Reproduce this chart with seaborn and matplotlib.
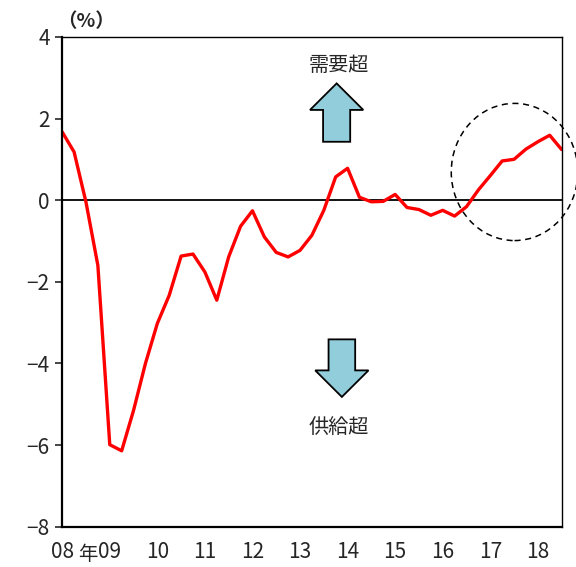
import numpy as np
import pandas as pd
import seaborn as sns
import matplotlib.pyplot as plt
from matplotlib.patches import Ellipse, FancyArrow

# 需給ギャップ（%）、2008年1Q～2018年3Q の四半期データ
gap_values = [1.67, 1.18, -0.05, -1.60, -5.99, -6.14, -5.15, -4.00, -3.02, -2.33,
              -1.37, -1.32, -1.76, -2.45, -1.39, -0.64, -0.26, -0.90, -1.28, -1.39,
              -1.23, -0.86, -0.25, 0.57, 0.78, 0.07, -0.04, -0.03, 0.14, -0.18,
              -0.23, -0.37, -0.25, -0.39, -0.16, 0.25, 0.60, 0.96, 1.00, 1.25,
              1.43, 1.59, 1.24]
start_year = 2008
year_ticks = list(range(2008, 2019))
year_labels = ['08', '09', '10', '11', '12', '13', '14', '15', '16', '17', '18']
y_ticks = [4, 2, 0, -2, -4, -6, -8]
y_labels = ['4', '2', '0', '−2', '−4', '−6', '−8']

df = pd.DataFrame({
    'year': start_year + 0.25 * np.arange(len(gap_values)),
    'gap': gap_values,
})

sns.set_style("white")
plt.rcParams['font.family'] = ['Noto Sans CJK JP', 'DejaVu Sans']

fig = plt.figure(figsize=(5.76, 5.67), dpi=100)
ax = fig.add_axes([0.108, 0.071, 0.867, 0.864])

sns.lineplot(data=df, x='year', y='gap', color='#ff0000', linewidth=2.4, ax=ax)
ax.axhline(0, color='black', linewidth=1.3, zorder=1)

ax.set_xlim(2008, 2018.5)
ax.set_ylim(-8, 4)
ax.set_xticks(year_ticks)
ax.set_xticklabels(year_labels, fontsize=15)
ax.set_yticks(y_ticks)
ax.set_yticklabels(y_labels, fontsize=15)
ax.tick_params(axis='x', direction='in', length=6, width=1.2, pad=10)
ax.tick_params(axis='y', direction='out', length=5, width=1.2, pad=4, left=True)
ax.set_xlabel('')
ax.set_ylabel('')
for side in ['left', 'bottom']:
    ax.spines[side].set_linewidth(1.6)
for side in ['top', 'right']:
    ax.spines[side].set_linewidth(1.0)
for sp in ax.spines.values():
    sp.set_color('black')

# 需要超 / 供給超 の矢印
ax.add_patch(FancyArrow(2013.77, 1.43, 0, 1.43, width=0.57, head_width=1.12,
                        head_length=0.65, length_includes_head=True,
                        facecolor='#92cddc', edgecolor='black', linewidth=1.3))
ax.add_patch(FancyArrow(2013.88, -3.41, 0, -1.41, width=0.56, head_width=1.12,
                        head_length=0.65, length_includes_head=True,
                        facecolor='#92cddc', edgecolor='black', linewidth=1.3))
ax.text(2013.81, 3.31, '需要超', fontsize=14.5, ha='center', va='center')
ax.text(2013.82, -5.56, '供給超', fontsize=14.5, ha='center', va='center')

# 直近の局面を囲む点線の円
ax.add_patch(Ellipse((2017.51, 0.69), 2.66, 3.36, fill=False, edgecolor='black',
                     linestyle=(0, (4, 3)), linewidth=1.1, clip_on=False))

fig.text(0.100, 0.962, '（%）', fontsize=14, fontweight='bold', ha='left', va='center')
fig.text(0.153, 0.004, '年', fontsize=14, ha='center', va='bottom')

fig.savefig('out.png', dpi=100)
